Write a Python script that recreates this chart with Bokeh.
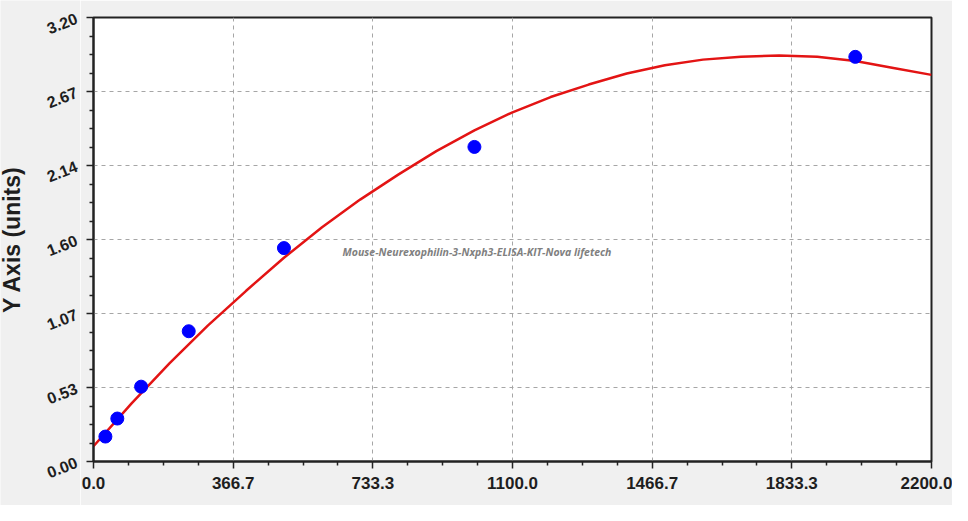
import math
from bokeh.plotting import figure
from bokeh.layouts import row
from bokeh.models import FixedTicker, NumeralTickFormatter, Label, Range1d
from bokeh.embed import file_html
from bokeh.resources import INLINE
import numpy as np

# standards (concentration vs. OD)
conc = [31.25, 62.5, 125, 250, 500, 1000, 2000]
od = [0.18, 0.31, 0.54, 0.94, 1.54, 2.27, 2.92]

# fitted curve
curve_x = [0, 100, 200, 300, 400, 500, 600, 700, 800, 900, 1000, 1100,
           1200, 1300, 1400, 1500, 1600, 1700, 1800, 1900, 2000, 2100, 2200]
curve_y = [0.11, 0.42, 0.71, 0.98, 1.23, 1.47, 1.69, 1.89, 2.07, 2.24, 2.39, 2.52,
           2.63, 2.72, 2.80, 2.86, 2.90, 2.92, 2.93, 2.92, 2.89, 2.84, 2.79]

x_ticks = [0, 366.67, 733.33, 1100, 1466.67, 1833.33, 2200]
y_ticks = [0, 0.534, 1.068, 1.602, 2.136, 2.67, 3.204]
y_tick_labels = ["0.00", "0.53", "1.07", "1.60", "2.14", "2.67", "3.20"]

title_text = "Mouse-Neurexophilin-3-Nxph3-ELISA-KIT-Nova lifetech"

H = 505
TOP, BOTTOM = 17, 44
LEFT_W = 80
MAIN_W = 952 - LEFT_W

# main plot
p = figure(width=MAIN_W, height=H, output_backend="svg", toolbar_location=None,
           x_range=Range1d(0, 2200), y_range=Range1d(0, 3.204),
           min_border_left=13, min_border_right=21, min_border_top=TOP, min_border_bottom=BOTTOM)
p.frame_align = False
p.background_fill_color = "white"
p.border_fill_color = "#f0f0f0"
p.outline_line_color = "#222222"
p.outline_line_width = 2

def minors(ticks):
    out = []
    for a, b in zip(ticks[:-1], ticks[1:]):
        out += list(np.linspace(a, b, 5)[1:-1])
    return out

p.xaxis.ticker = FixedTicker(ticks=x_ticks, minor_ticks=minors(x_ticks))
p.yaxis.ticker = FixedTicker(ticks=y_ticks, minor_ticks=minors(y_ticks))
p.xaxis.formatter = NumeralTickFormatter(format="0.0")

for ax in (p.xaxis, p.yaxis):
    ax.axis_line_color = "#222222"
    ax.axis_line_width = 2
    ax.major_tick_line_color = "#222222"
    ax.minor_tick_line_color = "#222222"
    ax.major_tick_line_width = 1.5
    ax.minor_tick_line_width = 1.5
    ax.major_tick_in = 0
    ax.major_tick_out = 7
    ax.minor_tick_in = 0
    ax.minor_tick_out = 4
    ax.major_label_text_font = "Liberation Sans"
    ax.major_label_text_font_style = "bold"
    ax.major_label_text_color = "#1e1e1e"

p.xaxis.major_label_text_font_size = "17px"
p.xaxis.major_label_standoff = 8

# slanted y labels live in the side panel figure
p.yaxis.major_label_text_color = None
p.yaxis.major_label_text_font_size = "1px"
p.yaxis.major_label_standoff = 0

p.grid.grid_line_color = "#a6a6a6"
p.grid.grid_line_dash = "4 4"
p.grid.grid_line_width = 1

p.line(curve_x, curve_y, line_color="#e31414", line_width=2.5)
p.scatter(conc, od, size=13, fill_color="#0000ff", line_color="#0000ff")

note = Label(x=654, y=1.51, text=title_text, text_font="Open Sans",
             text_font_style="bold italic", text_font_size="10.5px",
             text_color="#808080", text_baseline="middle")
p.add_layout(note)

# left panel: y tick labels and axis title
scale = (H - TOP - BOTTOM) / 3.204
side = figure(width=LEFT_W, height=H, output_backend="svg", toolbar_location=None,
              x_range=Range1d(0, LEFT_W),
              y_range=Range1d(-BOTTOM / scale, 3.204 + TOP / scale),
              x_axis_location=None, y_axis_location=None,
              min_border_left=0, min_border_right=0, min_border_top=0, min_border_bottom=0)
side.frame_align = False
side.background_fill_color = "#f0f0f0"
side.border_fill_color = "#f0f0f0"
side.outline_line_color = None
side.grid.visible = False

for yv, txt in zip(y_ticks, y_tick_labels):
    side.add_layout(Label(x=LEFT_W - 4, y=yv, text=txt, angle=0.38,
                          text_align="right", text_baseline="middle",
                          text_font="Liberation Sans", text_font_style="bold",
                          text_font_size="16px", text_color="#1e1e1e"))

side.add_layout(Label(x=11, y=1.602, text="Y Axis (units)", angle=math.pi / 2,
                      text_align="center", text_baseline="middle",
                      text_font="Liberation Sans", text_font_style="bold",
                      text_font_size="23px", text_color="#1e1e1e"))

layout = row(side, p)

open("out.html", "w").write(file_html(layout, INLINE))
